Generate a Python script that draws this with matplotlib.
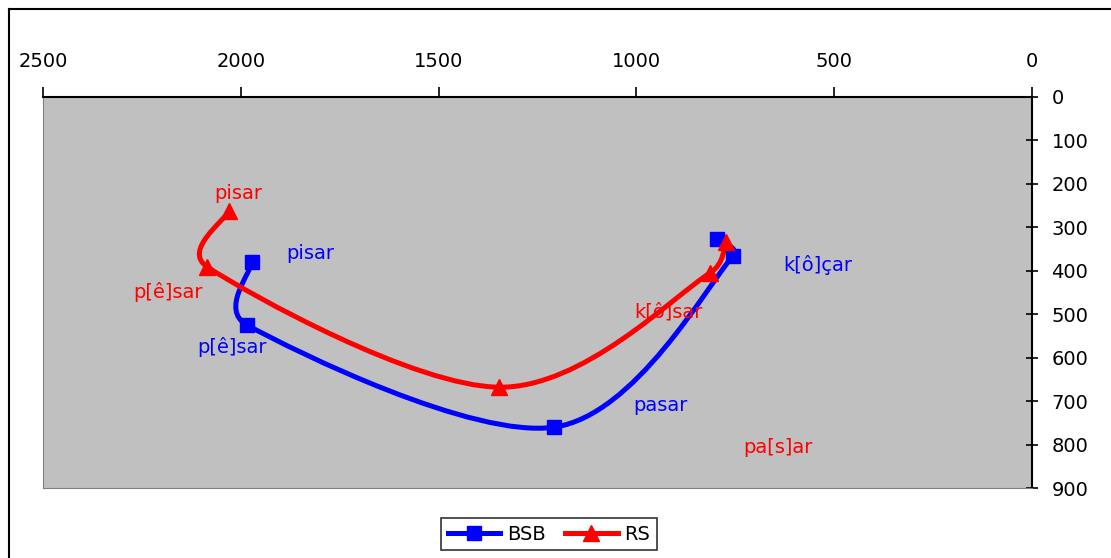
import numpy as np
import matplotlib
matplotlib.use("Agg")
import matplotlib.pyplot as plt
from matplotlib.path import Path
from matplotlib.patches import PathPatch
from matplotlib.lines import Line2D

plt.rcParams['font.family'] = ['DejaVu Sans']

# Formant values (Hz): F2 on the horizontal axis, F1 on the vertical axis
bsb_f2 = [1972, 1984, 1208, 756, 796]
bsb_f1 = [380, 525, 760, 366, 327]
rs_f2 = [2030, 2085, 1347, 814, 773]
rs_f1 = [262, 391, 668, 405, 334]

series_names = ["BSB", "RS"]
series_colors = ["#0000FF", "#FF0000"]

# Word labels placed in the vowel space (text, F2, F1, series index)
word_labels = [
    ("pisar", 2007, 223, 1),
    ("pisar", 1825, 361, 0),
    ("p[ê]sar", 2184, 449, 1),
    ("p[ê]sar", 2022, 575, 0),
    ("k[ô]sar", 920, 495, 1),
    ("k[ô]çar", 541, 387, 0),
    ("pasar", 938, 709, 0),
    ("pa[s]ar", 642, 806, 1),
]

x_ticks = [2500, 2000, 1500, 1000, 500, 0]
y_ticks = [0, 100, 200, 300, 400, 500, 600, 700, 800, 900]

W, H = 1111, 558
fig = plt.figure(figsize=(W / 100, H / 100), dpi=100)
ax = fig.add_axes([43 / W, 1 - 488 / H, (1032 - 43) / W, (488 - 97) / H])
ax.set_facecolor("#C0C0C0")
ax.set_xlim(2500, 0)
ax.set_ylim(900, 0)


def smooth_path(ax, xs, ys):
    """Bezier smoothing through the points, computed in display space."""
    pts = ax.transData.transform(np.column_stack([xs, ys]))
    n = len(pts)
    verts = [pts[0]]
    codes = [Path.MOVETO]

    def ctrl(t, d):
        L = np.linalg.norm(t)
        if L == 0:
            return np.zeros(2)
        return t * min(1 / 6, 0.5 * d / L)

    for i in range(n - 1):
        p0, p1 = pts[i], pts[i + 1]
        prev = pts[i - 1] if i > 0 else p0
        nxt = pts[i + 2] if i + 2 < n else p1
        d = np.linalg.norm(p1 - p0)
        c1 = p0 + ctrl(p1 - prev, d)
        c2 = p1 - ctrl(nxt - p0, d)
        verts += [c1, c2, p1]
        codes += [Path.CURVE4] * 3
    verts = ax.transData.inverted().transform(np.array(verts))
    return Path(verts, codes)


series = [(bsb_f2, bsb_f1, "s", 9.5), (rs_f2, rs_f1, "^", 11)]
handles = []
for (xs, ys, mk, ms), name, col in zip(series, series_names, series_colors):
    patch = PathPatch(smooth_path(ax, xs, ys), fill=False, edgecolor=col,
                      lw=3.6, capstyle="round", joinstyle="round", zorder=3)
    ax.add_patch(patch)
    ax.plot(xs, ys, linestyle="none", marker=mk, markersize=ms,
            color=col, zorder=4)
    handles.append(Line2D([], [], color=col, lw=3.6, marker=mk,
                          markersize=ms, label=name))

for text, x, y, idx in word_labels:
    ax.text(x, y, text, color=series_colors[idx], fontsize=14,
            ha="center", va="center", zorder=5)

# Axes: F2 along the top, F1 along the right
ax.xaxis.tick_top()
ax.yaxis.tick_right()
ax.set_xticks(x_ticks)
ax.set_yticks(y_ticks)
ax.tick_params(axis="x", direction="out", length=7, width=1.2, pad=11.5,
               labelsize=14, top=True, bottom=False)
ax.tick_params(axis="y", direction="inout", length=8, width=1.2, pad=10,
               labelsize=14, right=True, left=False)
for lab in ax.get_yticklabels():
    lab.set_horizontalalignment("left")

ax.spines["top"].set_color("black")
ax.spines["top"].set_linewidth(1.5)
ax.spines["right"].set_color("black")
ax.spines["right"].set_linewidth(1.5)
ax.spines["left"].set_color("#808080")
ax.spines["bottom"].set_color("#808080")

leg = fig.legend(handles=handles, loc="center", bbox_to_anchor=(549 / W, 1 - 534 / H),
                 ncol=2, fontsize=14, frameon=True, fancybox=False,
                 edgecolor="black", handlelength=2.7, columnspacing=1.0,
                 handletextpad=0.35, borderpad=0.35)
leg.get_frame().set_linewidth(1.2)

# Outer chart border
fig.add_artist(Line2D([9 / W, 9 / W], [0, 1 - 9 / H], transform=fig.transFigure,
                      color="black", lw=1.5))
fig.add_artist(Line2D([9 / W, 1], [1 - 9 / H, 1 - 9 / H], transform=fig.transFigure,
                      color="black", lw=1.5))

fig.savefig("out.png", dpi=100)
